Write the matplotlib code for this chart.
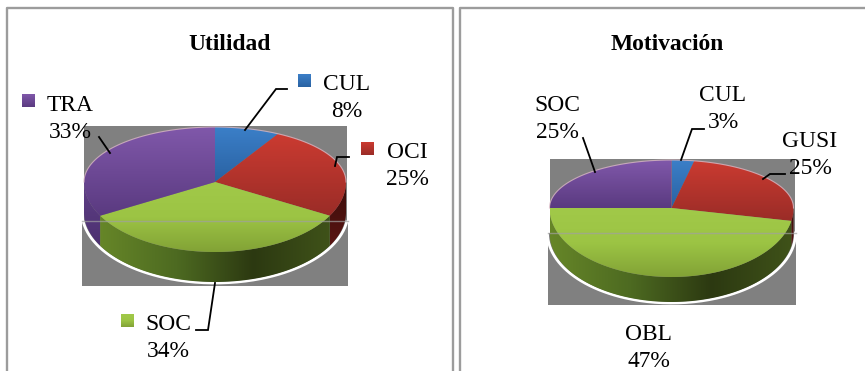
import numpy as np
import matplotlib
matplotlib.use('Agg')
import matplotlib.pyplot as plt
from matplotlib.colors import LinearSegmentedColormap
from matplotlib.patches import Polygon, Rectangle

plt.rcParams['font.family'] = ['Liberation Serif']

util_names = ['CUL', 'OCI', 'SOC', 'TRA']
util_values = [8, 25, 34, 33]
motiv_names = ['CUL', 'GUSI', 'OBL', 'SOC']
motiv_values = [3, 25, 47, 25]

# light, dark shade of each slice, clockwise from twelve o'clock
blue = ['#3b7fc8', '#2a62a2']
red = ['#cb3b31', '#9a2c27']
green = ['#a1c949', '#9cc444', '#82a236']
purple = ['#8058aa', '#5a3a80']
wall_green = ['#668628', '#4d6a21', '#2c3911', '#3f5219']
GRAY = '#808080'

W, H = 865, 371
fig = plt.figure(figsize=(W / 100, H / 100), dpi=100)
ax = fig.add_axes([0, 0, 1, 1])
ax.set_xlim(0, W)
ax.set_ylim(H, 0)
ax.axis('off')


def grad_fill(pts, colors, horizontal=False, z=3):
    # gradient image clipped to a polygon
    pts = np.array(pts)
    poly = Polygon(pts, closed=True, facecolor='none', edgecolor='none', zorder=z)
    ax.add_patch(poly)
    cmap = LinearSegmentedColormap.from_list('g', colors)
    ramp = np.linspace(0, 1, 256)
    ramp = ramp.reshape(1, -1) if horizontal else ramp.reshape(-1, 1)
    x0, x1 = pts[:, 0].min(), pts[:, 0].max()
    y0, y1 = pts[:, 1].min(), pts[:, 1].max()
    im = ax.imshow(ramp, cmap=cmap, extent=(x0, x1, y1, y0), aspect='auto', zorder=z,
                   interpolation='bilinear')
    im.set_clip_path(poly)


def rim(cx, cy, rx, up, down, t):
    # the top face is squeezed above the apex and stretched below it
    t = np.radians(t)
    s = np.sin(t)
    return np.column_stack([cx + rx * np.cos(t), cy - np.where(s > 0, up, down) * s])


def draw_pie(values, cx, cy, rx, up, down, depth, rect_top, rect_mid, rect_bot):
    colors = [blue, red, green, purple]
    fracs = np.array(values) / sum(values)
    edges = 90 - 360 * np.concatenate([[0], np.cumsum(fracs)])

    # gray backing left behind the pie, with its seam
    ax.add_patch(Rectangle((cx - rx, rect_top), 2 * rx + 1, rect_mid - rect_top, color=GRAY, lw=0, zorder=1))
    ax.add_patch(Rectangle((cx - rx - 2, rect_mid), 2 * rx + 4, rect_bot - rect_mid, color=GRAY, lw=0, zorder=1))

    # white halo under the pie, only below the seam
    t = np.linspace(180, 360, 200)
    halo = rim(cx, cy + depth, rx + 2, up, down + 1, t)
    halo = halo[halo[:, 1] >= rect_mid]
    ax.plot(halo[:, 0], halo[:, 1], color='white', lw=2, zorder=2)

    # side wall, split at the slice edges
    left_edge, right_edge = edges[3], edges[2]
    t = np.linspace(-180, left_edge, 30)
    low = rim(cx, cy, rx, up, down, t)
    grad_fill(np.vstack([low, (low + [0, depth])[::-1]]), ['#5f3f86', '#4c3070'], z=3)
    t = np.linspace(right_edge, 0, 30)
    low = rim(cx, cy, rx, up, down, t)
    grad_fill(np.vstack([low, (low + [0, depth])[::-1]]), ['#3a0c0a', '#5a1512'], z=3)
    t = np.linspace(left_edge, right_edge, 120)
    low = rim(cx, cy, rx, up, down, t)
    grad_fill(np.vstack([low, (low + [0, depth])[::-1]]), wall_green, horizontal=True, z=3)

    # top face
    for i in range(len(values)):
        t = np.linspace(edges[i], edges[i + 1], 120)
        grad_fill(np.vstack([[cx, cy], rim(cx, cy, rx, up, down, t)]), colors[i], z=4)

    t = np.linspace(0, 180, 100)
    edge = rim(cx, cy, rx, up, down, t)
    ax.plot(edge[:, 0], edge[:, 1], color='#d9b8c4', lw=0.8, alpha=0.8, zorder=5)
    ax.plot([cx - rx - 2, cx + rx + 2], [rect_mid, rect_mid], color='#a0a0a0', lw=1, alpha=0.7, zorder=6)


def label(x, y, name, value):
    # y is the baseline of the name line
    ax.text(x, y, name, ha='center', va='baseline', fontsize=16.9, color='black', zorder=8)
    ax.text(x, y + 27, f'{value}%', ha='center', va='baseline', fontsize=16.9, color='black', zorder=8)


def leader(xs, ys):
    ax.plot(xs, ys, color='black', lw=1.3, solid_joinstyle='miter', zorder=7)


def key(x, y, colors):
    grad_fill([(x, y), (x + 13, y), (x + 13, y + 13), (x, y + 13)], colors, z=7)


# panel frames, the right one runs off the edge
ax.plot([6.5, 6.5, 453, 453], [H + 2, 7.5, 7.5, H + 2], color='#9c9c9c', lw=1.7, zorder=1)
ax.plot([460, 460, W + 2], [H + 2, 7.5, 7.5], color='#9c9c9c', lw=1.7, zorder=1)

ax.text(230, 50, 'Utilidad', ha='center', va='baseline', fontsize=16.9, fontweight='bold')
ax.text(667, 50, 'Motivación', ha='center', va='baseline', fontsize=16.9, fontweight='bold')

# left pie
draw_pie(util_values, 215, 182, 131, 55, 70, 30, 126, 221, 286)
key(298, 74, blue)
key(361, 142, red)
key(121, 314, green)
key(22, 94, purple)
label(347, 90, util_names[0], util_values[0])
label(407, 158, util_names[1], util_values[1])
label(168, 330, util_names[2], util_values[2])
label(70, 111, util_names[3], util_values[3])
leader([245, 276, 287], [130, 89, 89])
leader([335, 337, 349], [166, 157, 157])
leader([215, 208, 196], [283, 330, 330])
leader([110, 99], [153, 137])

# right pie
draw_pie(motiv_values, 671.5, 208, 122, 48, 69, 25, 159, 233, 305)
label(723, 101, motiv_names[0], motiv_values[0])
label(810, 147, motiv_names[1], motiv_values[1])
label(649, 340, motiv_names[2], motiv_values[2])
label(557, 111, motiv_names[3], motiv_values[3])
leader([681, 692, 704], [160, 129, 129])
leader([763, 770, 785], [179, 174, 174])
leader([595, 583], [172, 138])

ax.set_xlim(0, W)
ax.set_ylim(H, 0)
fig.savefig('out.png', dpi=100, facecolor='white')
